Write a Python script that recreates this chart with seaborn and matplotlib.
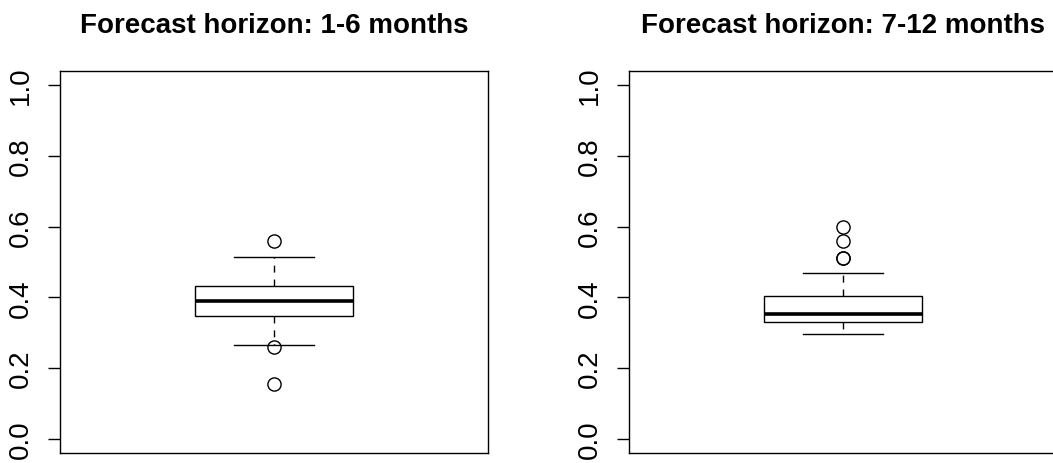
import matplotlib
matplotlib.use("Agg")
import matplotlib.pyplot as plt
import seaborn as sns
import numpy as np

# Values (quartiles, whisker ends and outliers)
short_horizon = [0.155, 0.260, 0.264, 0.300, 0.330, 0.348, 0.360, 0.370, 0.375,
                 0.382, 0.388, 0.395, 0.400, 0.410, 0.420, 0.432, 0.445, 0.460,
                 0.480, 0.515, 0.559]
long_horizon = [0.295, 0.300, 0.310, 0.320, 0.325, 0.328, 0.331, 0.335, 0.340,
                0.344, 0.348, 0.351, 0.353, 0.360, 0.370, 0.380, 0.390, 0.398,
                0.404, 0.440, 0.469, 0.510, 0.512, 0.560, 0.598]
titles = ["Forecast horizon: 1-6 months", "Forecast horizon: 7-12 months"]
y_ticks = [0.0, 0.2, 0.4, 0.6, 0.8, 1.0]

plt.rcParams['font.family'] = ['Liberation Sans', 'DejaVu Sans']

fig = plt.figure(figsize=(10.53, 4.64), dpi=100)
ax_left = fig.add_axes([0.057, 0.0222, 0.4065, 0.8226])
ax_right = fig.add_axes([0.5973, 0.0222, 0.4065, 0.8226])

for ax, values, title in zip([ax_left, ax_right], [short_horizon, long_horizon], titles):
    sns.boxplot(y=values, ax=ax, width=0.4, whis=1.02, color='white',
                linecolor='black', linewidth=1.0, saturation=1,
                medianprops={'linewidth': 2.6, 'color': 'black'},
                whiskerprops={'linestyle': (0, (5, 5)), 'linewidth': 1.0},
                capprops={'linewidth': 1.0},
                flierprops={'marker': 'o', 'markerfacecolor': 'none',
                            'markeredgecolor': 'black', 'markersize': 9.5,
                            'markeredgewidth': 1.0})
    ax.set_xlim(-0.54, 0.54)
    ax.set_ylim(-0.04, 1.04)
    ax.set_yticks(y_ticks)
    ax.set_yticklabels([f"{t:.1f}" for t in y_ticks])
    ax.set_xticks([])
    ax.set_xlabel('')
    ax.set_ylabel('')
    ax.tick_params(axis='y', labelrotation=90, labelsize=20, length=8.6,
                   width=1.0, pad=10.5)
    for lbl in ax.get_yticklabels():
        lbl.set_va('center')
    for s in ax.spines.values():
        s.set_visible(True)
        s.set_linewidth(1.0)
        s.set_color('black')
    ax.grid(False)
    ax.set_title(title, fontsize=20, fontweight='bold', pad=28)

fig.savefig('out.png', dpi=100, facecolor='white')
plt.close(fig)
